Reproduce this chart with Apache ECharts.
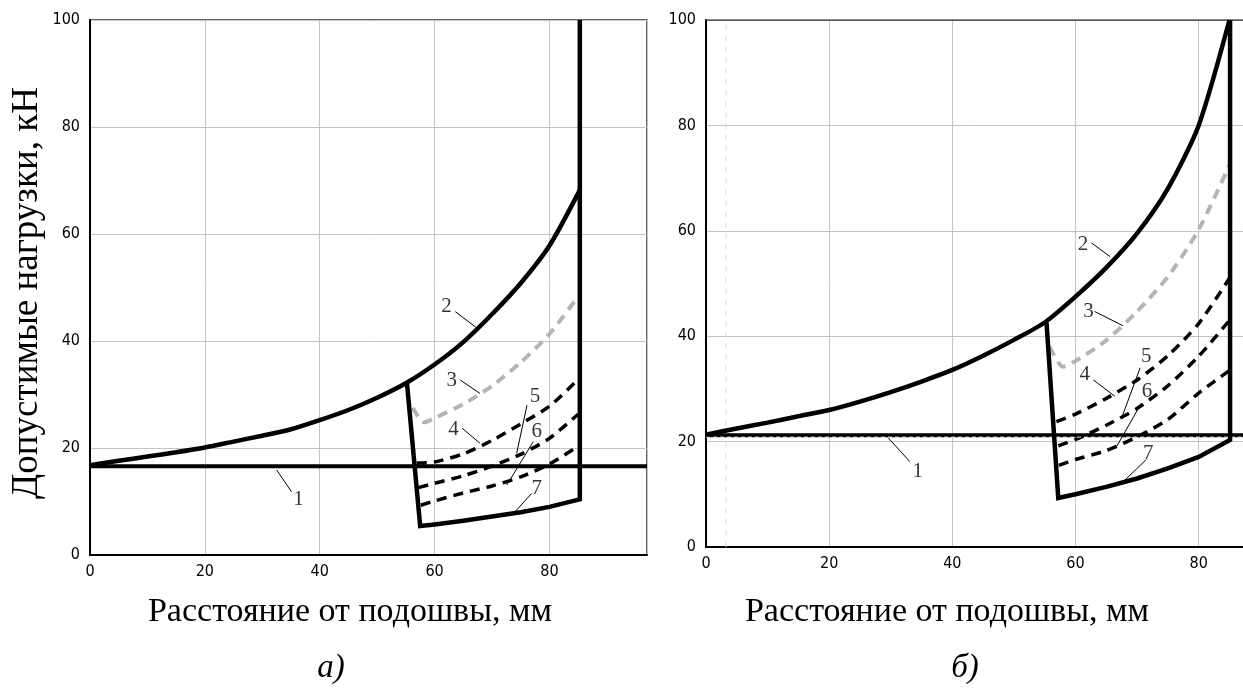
<!DOCTYPE html>
<html><head><meta charset="utf-8">
<script src="https://cdn.jsdelivr.net/npm/echarts@6/dist/echarts.min.js"></script>
<style>html,body{margin:0;padding:0;background:#fff}#c{width:1243px;height:697px}</style>
</head><body><div id="c"></div>
<script>
// ---------- Chart а) ----------
const aCurve2 = [[0,16.8],[5,17.6],[10,18.4],[15,19.2],[20,20.1],[25,21.2],[30,22.3],[35,23.5],[40,25.2],[45,27.1],[50,29.4],[55,32.1],[60,35.6],[65,39.8],[70,45],[75,50.8],[80,57.8],[85.3,68.2]];
const aLine1 = [[0,16.6],[97,16.6]];
const aCurve7 = [[55.2,32.1],[57.5,5.4],[60,5.7],[65,6.4],[70,7.2],[75,8.0],[80,9.0],[85.3,10.4],[85.3,100]];
const aCurve3 = [[56.2,27.5],[58.2,24.8],[60,25.6],[65,28.2],[70,31.6],[75,36],[80,41.3],[85,48.3]];
const aCurve4 = [[56.9,17.2],[60,17.4],[65,18.9],[70,21.4],[75,24.5],[80,27.8],[85,32.8]];
const aCurve5 = [[57.2,12.6],[60,13.4],[65,14.8],[70,16.6],[75,18.8],[80,21.8],[85,26.3]];
const aCurve6 = [[57.6,9.3],[60,10.1],[65,11.6],[70,12.9],[75,14.6],[80,17],[85,20.3]];
const aLabels = ['1','2','3','4','5','6','7'];
const aLabelPos = [[36.3,10.3],[62.1,46.4],[63,32.7],[63.3,23.4],[77.5,29.6],[77.8,23],[77.8,12.5]];
const aLeaderFrom = [[35.1,11.8],[63.6,45.5],[64.5,32.7],[64.8,23.7],[76.1,28],[77.2,21.2],[76.9,11.5]];
const aLeaderTo = [[32.5,15.9],[67.4,42.4],[67.9,30.2],[67.9,20.9],[74.3,19],[72.6,13.1],[73.7,7.7]];

// ---------- Chart б) ----------
const bXMax = 87.2;
const bCurve2 = [[0,21.3],[5,22.5],[10,23.6],[15,24.8],[20,26],[25,27.6],[30,29.4],[35,31.4],[40,33.6],[45,36.3],[50,39.3],[55,42.6],[60,47.5],[65,53],[70,59.5],[75,68],[80,80],[85,100]];
const bLine1 = [[0,21.2],[bXMax,21.2]];
const bLine1Edge = [[0,20.85],[bXMax,20.85]];
const bFrameTop = [[0,100],[bXMax,100]];
const bCurve7 = [[55.3,42.5],[57.2,9.3],[60,10.0],[65,11.4],[70,13.0],[75,14.9],[80,17.1],[85.1,20.3],[85.1,100]];
const bCurve3 = [[55.8,38],[58,34.2],[60,35.3],[65,39.2],[70,44.7],[75,51.3],[80,60.2],[85,72.5]];
const bCurve4 = [[56.9,23.8],[60,25.2],[65,28.2],[70,31.7],[75,36.3],[80,42.4],[85,51]];
const bCurve5 = [[57.2,19.2],[60,20.4],[65,23.1],[70,26.3],[75,30.6],[80,36.2],[85,43]];
const bCurve6 = [[57.3,15.5],[60,16.6],[65,18.3],[70,20.9],[75,24.2],[80,29.2],[85,33.5]];
const bFaint = [[3.25,0],[3.25,100]];
const bLabels = ['1','2','3','4','5','6','7'];
const bLabelPos = [[34.4,14.3],[61.2,57.4],[62.1,44.7],[61.5,32.7],[71.5,36.2],[71.6,29.5],[71.8,17.8]];
const bLeaderFrom = [[33.1,16.2],[62.6,57.7],[63.1,44.7],[62.9,31.7],[70.5,34],[70.7,27.3],[71.5,16.6]];
const bLeaderTo = [[29.6,20.7],[65.6,55.1],[67.7,42],[66.4,28.6],[67.5,24.5],[66.7,19.1],[67.5,12.1]];

const yTitle = 'Допустимые нагрузки, кН';
const xTitle = 'Расстояние от подошвы, мм';
const subA = 'а)';
const subB = 'б)';

const tickFont = '"Liberation Sans Narrow", "DejaVu Sans Condensed", sans-serif';
const serif = '"Liberation Serif", "DejaVu Serif", serif';

function line(data, idx, style, z, extra) {
  return Object.assign({
    type: 'line', xAxisIndex: idx, yAxisIndex: idx, data: data,
    showSymbol: false, symbol: 'none', silent: true, z: z,
    lineStyle: style
  }, extra || {});
}

function buildSeries(idx, c) {
  const s = [];
  const dash = {type: [10, 7]};
  const sm = {smooth: 0.25};
  s.push(line(c.line1, idx, {color: '#000', width: 4}, 5));
  s.push(line(c.c3, idx, Object.assign({color: '#b4b4b4', width: 4}, dash), 3, sm));
  s.push(line(c.c4, idx, Object.assign({color: '#000', width: 3.5}, dash), 3, sm));
  s.push(line(c.c5, idx, Object.assign({color: '#000', width: 3.5}, dash), 3, sm));
  s.push(line(c.c6, idx, Object.assign({color: '#000', width: 3.5}, dash), 3, sm));
  s.push(line(c.c2, idx, {color: '#000', width: 4.5}, 6, sm));
  s.push(line(c.c7, idx, {color: '#000', width: 4.5, join: 'miter'}, 6));
  c.from.forEach((f, i) => {
    s.push(line([f, c.to[i]], idx, {color: '#000', width: 1}, 7));
  });
  s.push({
    type: 'scatter', xAxisIndex: idx, yAxisIndex: idx, symbolSize: 0, silent: true, z: 8,
    data: c.labels.map((t, i) => ({name: t, value: c.pos[i]})),
    label: {show: true, position: 'inside', formatter: '{b}', color: '#000',
      fontFamily: serif, fontSize: 21}
  });
  return s;
}

const seriesA = buildSeries(0, {line1: aLine1, c2: aCurve2, c3: aCurve3, c4: aCurve4, c5: aCurve5, c6: aCurve6, c7: aCurve7,
  labels: aLabels, pos: aLabelPos, from: aLeaderFrom, to: aLeaderTo});
const seriesB = buildSeries(1, {line1: bLine1, c2: bCurve2, c3: bCurve3, c4: bCurve4, c5: bCurve5, c6: bCurve6, c7: bCurve7,
  labels: bLabels, pos: bLabelPos, from: bLeaderFrom, to: bLeaderTo});
seriesB.unshift(line(bFaint, 1, {color: '#dcdcdc', width: 1, type: [6, 5]}, 1));
seriesB.push(line(bLine1Edge, 1, {color: '#f0f0f0', width: 1, type: [4, 3]}, 5.5));
seriesB.push(line(bFrameTop, 1, {color: '#333', width: 1.5}, 2));

function xAx(idx, max) {
  return {type: 'value', gridIndex: idx, min: 0, max: max, interval: 20,
    axisLine: {show: true, onZero: false, lineStyle: {color: '#000', width: 2}},
    axisTick: {show: false},
    splitLine: {show: true, lineStyle: {color: '#c4c4c4', width: 1}},
    axisLabel: {color: '#000', fontFamily: tickFont, fontSize: 16, margin: 9, showMaxLabel: false}};
}
function yAx(idx) {
  return {type: 'value', gridIndex: idx, min: 0, max: 100, interval: 20,
    axisLine: {show: true, onZero: false, lineStyle: {color: '#000', width: 2}},
    axisTick: {show: false},
    splitLine: {show: true, lineStyle: {color: '#c4c4c4', width: 1}},
    axisLabel: {color: '#000', fontFamily: tickFont, fontSize: 16, margin: 10}};
}

const chart = echarts.init(document.getElementById('c'), null, {renderer: 'canvas'});
chart.setOption({
  animation: false,
  backgroundColor: '#fff',
  grid: [
    {left: 90, top: 20, width: 557, height: 535, show: true, borderColor: '#333', borderWidth: 1.5, containLabel: false},
    {left: 706, top: 20, width: 537, height: 527, show: false, containLabel: false}
  ],
  xAxis: [xAx(0, 97), xAx(1, bXMax)],
  yAxis: [yAx(0), yAx(1)],
  series: seriesA.concat(seriesB),
  graphic: [
    {type: 'text', x: 27, y: 293, rotation: Math.PI / 2,
      style: {text: yTitle, fontFamily: serif, fontSize: 37, fill: '#000', align: 'center', verticalAlign: 'middle'}},
    {type: 'text', x: 350, y: 612,
      style: {text: xTitle, fontFamily: serif, fontSize: 34, fill: '#000', align: 'center', verticalAlign: 'middle'}},
    {type: 'text', x: 947, y: 612,
      style: {text: xTitle, fontFamily: serif, fontSize: 34, fill: '#000', align: 'center', verticalAlign: 'middle'}},
    {type: 'text', x: 331, y: 668,
      style: {text: subA, fontFamily: serif, fontStyle: 'italic', fontSize: 33, fill: '#000', align: 'center', verticalAlign: 'middle'}},
    {type: 'text', x: 965, y: 668,
      style: {text: subB, fontFamily: serif, fontStyle: 'italic', fontSize: 33, fill: '#000', align: 'center', verticalAlign: 'middle'}}
  ]
});
</script></body></html>
